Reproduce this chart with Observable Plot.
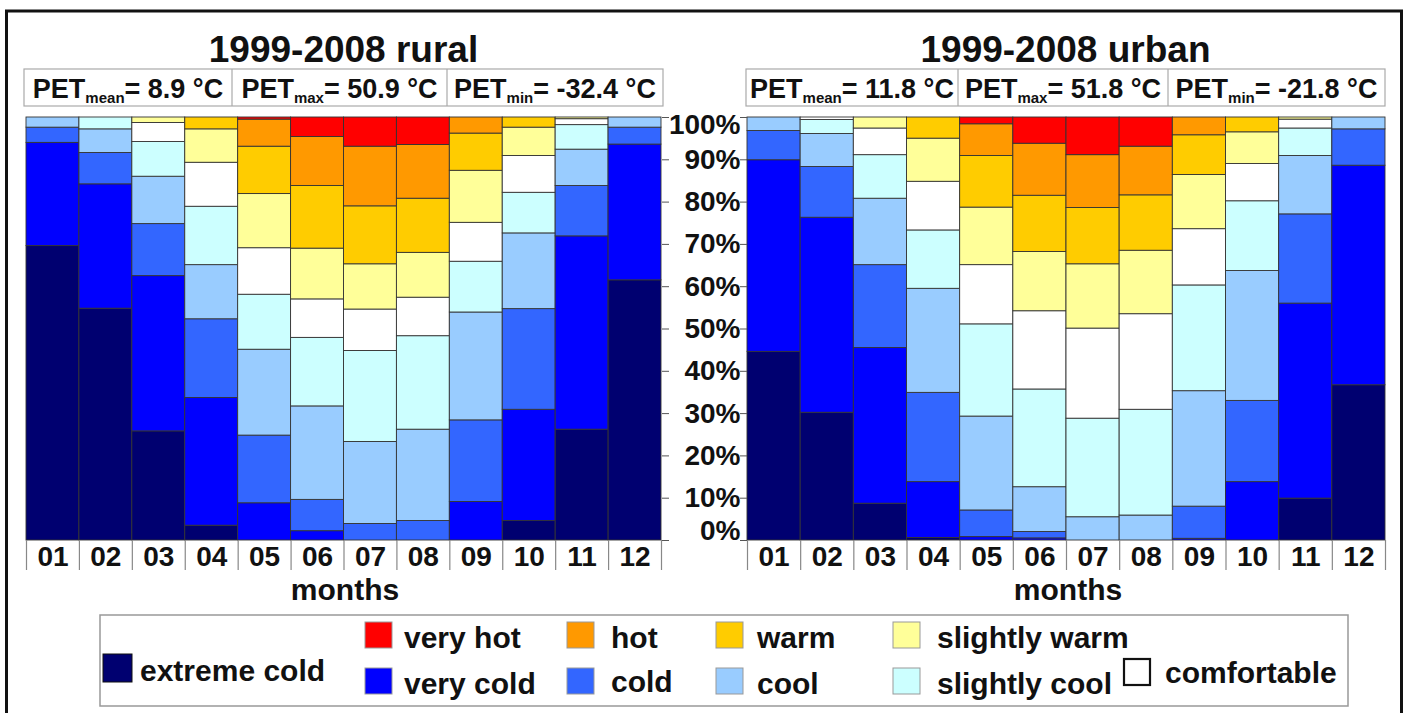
<!DOCTYPE html>
<html>
<head>
<meta charset="utf-8">
<script src="https://cdn.jsdelivr.net/npm/d3@7"></script>
<script src="https://cdn.jsdelivr.net/npm/@observablehq/plot@0.6"></script>
<style>
  body { margin: 0; background: #fff; }
  #root { position: relative; width: 1409px; height: 713px; overflow: hidden; background: #fff;
          font-family: "Liberation Sans", Arial, sans-serif; }
  #root > svg { position: absolute; }
</style>
</head>
<body>
<div id="root"></div>
<script>
// ---------- data ----------
const months = ["01","02","03","04","05","06","07","08","09","10","11","12"];
const categories = ["extreme cold","very cold","cold","cool","slightly cool","comfortable","slightly warm","warm","hot","very hot"];
const colors = ["#000070","#0000ff","#3366ff","#99ccff","#ccffff","#ffffff","#ffff99","#ffcc00","#ff9900","#ff0000"];
const yTicks = [0,10,20,30,40,50,60,70,80,90,100];

const ruralExtremeCold  = [69.6,54.8,25.8,3.5,0,0,0,0,0,4.6,26.2,61.5];
const ruralVeryCold     = [24.4,29.4,36.7,30.2,8.8,2.2,0,0,9.1,26.3,45.7,32.1];
const ruralCold         = [3.6,7.4,12.3,18.6,16.0,7.4,3.9,4.6,19.3,23.8,11.9,4.0];
const ruralCool         = [2.4,5.6,11.2,12.8,20.3,22.1,19.4,21.6,25.5,17.9,8.6,2.4];
const ruralSlightlyCool = [0,2.8,8.2,13.8,13.0,16.2,21.5,22.1,12.0,9.6,5.8,0];
const ruralComfortable  = [0,0,4.5,10.4,11.0,9.1,9.8,9.1,9.2,8.7,1.4,0];
const ruralSlightlyWarm = [0,0,1.3,7.9,12.8,12.0,10.7,10.6,12.3,6.7,0.4,0];
const ruralWarm         = [0,0,0,2.8,11.2,14.8,13.7,12.8,8.8,2.4,0,0];
const ruralHot          = [0,0,0,0,6.4,11.6,14.1,12.7,3.8,0,0,0];
const ruralVeryHot      = [0,0,0,0,0.5,4.6,6.9,6.5,0,0,0,0];

const urbanExtremeCold  = [44.6,30.2,8.7,0.6,0,0,0,0,0,0,9.9,36.7];
const urbanVeryCold     = [45.3,46.1,36.8,13.2,0.8,0.5,0,0,0.4,13.8,46.1,51.9];
const urbanCold         = [6.9,12.0,19.6,21.1,6.3,1.5,0,0,7.6,19.2,21.1,8.6];
const urbanCool         = [3.2,7.8,15.7,24.6,22.2,10.6,5.5,5.9,27.3,30.7,13.8,2.8];
const urbanSlightlyCool = [0,3.3,10.3,13.8,21.8,23.1,23.3,25.0,25.0,16.5,6.5,0];
const urbanComfortable  = [0,0.6,6.3,11.5,14.0,18.5,21.3,22.6,13.3,8.8,2.1,0];
const urbanSlightlyWarm = [0,0,2.6,10.2,13.6,14.0,15.2,15.0,12.8,7.5,0.5,0];
const urbanWarm         = [0,0,0,5.0,12.2,13.3,13.3,13.1,9.4,3.5,0,0];
const urbanHot          = [0,0,0,0,7.5,12.3,12.5,11.5,4.2,0,0,0];
const urbanVeryHot      = [0,0,0,0,1.6,6.2,8.9,6.9,0,0,0,0];

const ruralTitle = "1999-2008 rural";
const urbanTitle = "1999-2008 urban";
const ruralPET = [["mean","= 8.9 °C"],["max","= 50.9 °C"],["min","= -32.4 °C"]];
const urbanPET = [["mean","= 11.8 °C"],["max","= 51.8 °C"],["min","= -21.8 °C"]];

const rural = [ruralExtremeCold,ruralVeryCold,ruralCold,ruralCool,ruralSlightlyCool,ruralComfortable,ruralSlightlyWarm,ruralWarm,ruralHot,ruralVeryHot];
const urban = [urbanExtremeCold,urbanVeryCold,urbanCold,urbanCool,urbanSlightlyCool,urbanComfortable,urbanSlightlyWarm,urbanWarm,urbanHot,urbanVeryHot];

// ---------- layout ----------
const FONT = '"Liberation Sans", Arial, sans-serif';
const root = document.getElementById("root");

// decoration layer (titles, PET boxes, legend, frame)
const deco = d3.select(root).append("svg")
  .attr("width", 1409).attr("height", 713)
  .style("left", "0px").style("top", "0px")
  .attr("font-family", FONT).attr("font-weight", "bold").attr("fill", "#111");

function header(title, pets, x0, x1, cuts) {
  deco.append("text").attr("x", (x0 + x1) / 2).attr("y", 62)
    .attr("text-anchor", "middle").attr("font-size", 37).text(title);
  const edges = [x0, ...cuts, x1];
  deco.append("rect").attr("x", x0).attr("y", 69).attr("width", x1 - x0).attr("height", 37)
    .attr("fill", "none").attr("stroke", "#aaa").attr("stroke-width", 1.2);
  cuts.forEach(c => deco.append("line").attr("x1", c).attr("x2", c).attr("y1", 69).attr("y2", 106)
    .attr("stroke", "#aaa").attr("stroke-width", 1.2));
  pets.forEach((p, i) => {
    const t = deco.append("text").attr("x", (edges[i] + edges[i + 1]) / 2).attr("y", 98)
      .attr("text-anchor", "middle").attr("font-size", 27);
    t.append("tspan").text("PET");
    t.append("tspan").attr("font-size", 15).attr("dy", 5).text(p[0]);
    t.append("tspan").attr("dy", -5).text(p[1]);
  });
}
header(ruralTitle, ruralPET, 24, 663, [232, 447]);
header(urbanTitle, urbanPET, 746, 1385, [958, 1168]);

// month axis titles
deco.append("text").attr("x", 345).attr("y", 600).attr("text-anchor", "middle").attr("font-size", 30).text("months");
deco.append("text").attr("x", 1068).attr("y", 600).attr("text-anchor", "middle").attr("font-size", 30).text("months");

// legend
deco.append("rect").attr("x", 100).attr("y", 615).attr("width", 1248).attr("height", 91)
  .attr("fill", "none").attr("stroke", "#999").attr("stroke-width", 1.5);
const legendItems = [
  {c: "extreme cold", sx: 103, sy: 654, w: 29, h: 28, tx: 140, ty: 681},
  {c: "very hot", sx: 365, sy: 622, w: 27, h: 26, tx: 404, ty: 648},
  {c: "very cold", sx: 365, sy: 668, w: 27, h: 26, tx: 404, ty: 694},
  {c: "hot", sx: 567, sy: 622, w: 27, h: 26, tx: 611, ty: 648},
  {c: "cold", sx: 567, sy: 668, w: 27, h: 26, tx: 611, ty: 692},
  {c: "warm", sx: 716, sy: 622, w: 27, h: 26, tx: 757, ty: 648},
  {c: "cool", sx: 716, sy: 668, w: 27, h: 26, tx: 757, ty: 694},
  {c: "slightly warm", sx: 893, sy: 622, w: 27, h: 26, tx: 937, ty: 648},
  {c: "slightly cool", sx: 893, sy: 668, w: 27, h: 26, tx: 937, ty: 694},
  {c: "comfortable", sx: 1124, sy: 659, w: 26, h: 26, tx: 1165, ty: 683}
];
legendItems.forEach(it => {
  const col = colors[categories.indexOf(it.c)];
  deco.append("rect").attr("x", it.sx).attr("y", it.sy).attr("width", it.w).attr("height", it.h)
    .attr("fill", col)
    .attr("stroke", it.c === "comfortable" || it.c === "extreme cold" ? "#111" : "#999")
    .attr("stroke-width", it.c === "comfortable" ? 2.2 : 1);
  deco.append("text").attr("x", it.tx).attr("y", it.ty).attr("font-size", 30).text(it.c);
});

// outer frame
deco.append("rect").attr("x", 6.5).attr("y", 11).attr("width", 1395).attr("height", 720)
  .attr("fill", "none").attr("stroke", "#111").attr("stroke-width", 3);

// ---------- panels ----------
function panel(series, isLeft) {
  const rows = [];
  months.forEach((m, i) => categories.forEach((c, j) => {
    rows.push({month: i + 1, x1: i + 0.5, x2: i + 1.5, cat: c, v: series[j][i]});
  }));
  const txt = {fontFamily: FONT, fontWeight: "bold"};
  const marks = [
    Plot.rectY(rows.filter(d => d.v > 0), Plot.stackY({
      x1: "x1", x2: "x2", y: "v", fill: "cat", order: categories,
      stroke: "#333", strokeWidth: 0.9
    })),
    // separators between month labels
    Plot.axisX(d3.range(0.5, 13, 1), {tickSize: 30, tickFormat: () => "", stroke: "#888", strokeWidth: 1.2, label: null}),
    // month labels
    Plot.axisX(months.map((m, i) => i + 1), {tickSize: 0, tickPadding: 6, tickFormat: d => months[d - 1],
      fontSize: 28, label: null, ...txt}),
  ];
  if (isLeft) {
    marks.push(Plot.axisY(yTicks, {anchor: "right", tickSize: 7, tickFormat: () => "", stroke: "#555", label: null}));
  } else {
    marks.push(Plot.axisY(yTicks, {anchor: "left", tickSize: 7, tickFormat: () => "", stroke: "#555", label: null}));
    marks.push(Plot.axisY(yTicks.slice(1, 10), {anchor: "left", tickSize: 0, tickPadding: 7,
      tickFormat: d => d + "%", fontSize: 28, label: null, ...txt}));
    marks.push(Plot.axisY([100], {anchor: "left", tickSize: 0, tickPadding: 7, dy: 8,
      tickFormat: d => d + "%", fontSize: 28, label: null, ...txt}));
    marks.push(Plot.axisY([0], {anchor: "left", tickSize: 0, tickPadding: 7, dy: -9,
      tickFormat: d => d + "%", fontSize: 28, label: null, ...txt}));
  }
  return Plot.plot({
    width: isLeft ? 700 : 749,
    height: 500,
    marginTop: 17,
    marginBottom: 60,
    marginLeft: isLeft ? 26 : 87,
    marginRight: isLeft ? 39 : 24,
    style: {background: "transparent", overflow: "visible", color: "#111", fontFamily: FONT},
    x: {domain: [0.5, 12.5], axis: null},
    y: {domain: [0, 100], axis: null},
    color: {domain: categories, range: colors},
    marks
  });
}

const left = panel(rural, true);
left.style.position = "absolute"; left.style.left = "0px"; left.style.top = "100px";
root.appendChild(left);
const right = panel(urban, false);
right.style.position = "absolute"; right.style.left = "660px"; right.style.top = "100px";
root.appendChild(right);
</script>
</body>
</html>
